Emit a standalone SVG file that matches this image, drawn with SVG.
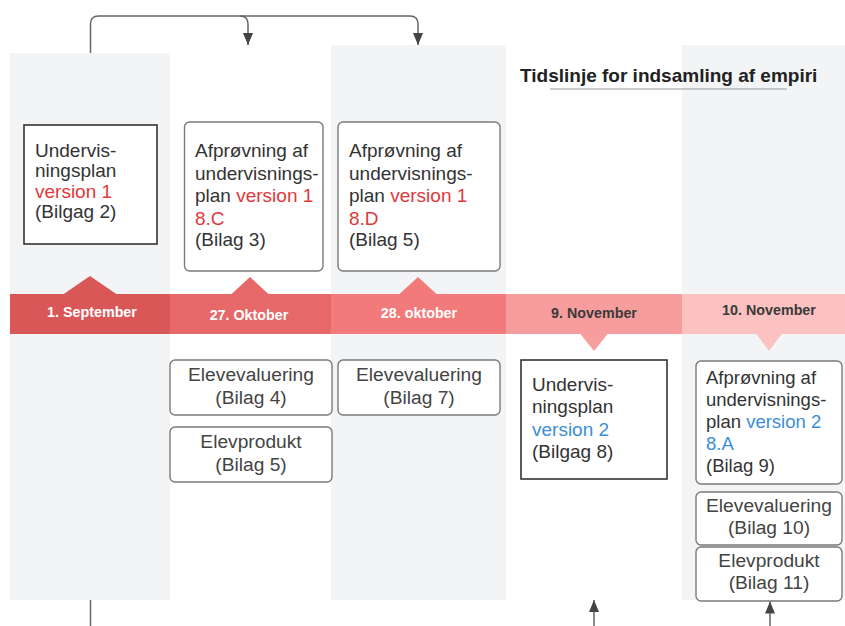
<svg xmlns="http://www.w3.org/2000/svg" width="845" height="626" viewBox="0 0 845 626">
<defs>
<style>
.col{fill:#f3f4f6}
.sq{fill:#fff;stroke:#333;stroke-width:1.6}
.rd{fill:#fff;stroke:#7a7a7a;stroke-width:1.4}
.t{font-family:"Liberation Sans",Arial,sans-serif;font-size:19px;fill:#333}
.tc{font-family:"Liberation Sans",Arial,sans-serif;font-size:19.2px;fill:#444;text-anchor:middle}
.red{fill:#e0393b}
.blue{fill:#3b8ed8}
.lbl{font-family:"Liberation Sans",Arial,sans-serif;font-size:14.3px;font-weight:bold;text-anchor:middle}
.conn{fill:none;stroke:#666;stroke-width:1.5}
</style>
<marker id="ah" viewBox="0 0 12 10" refX="12" refY="5" markerWidth="12" markerHeight="10" markerUnits="userSpaceOnUse" orient="auto">
<path d="M0,0 L12,5 L0,10 Z" fill="#444"/>
</marker>
</defs>
<rect width="845" height="626" fill="#fff"/>
<g id="columns">
<rect class="col" x="10" y="53" width="160" height="547"/>
<rect class="col" x="331" y="45" width="175" height="555"/>
<rect class="col" x="682" y="45" width="163" height="555"/>
</g>
<g id="title">
<text x="520" y="82" font-family="Liberation Sans,Arial,sans-serif" font-size="19" font-weight="bold" fill="#222">Tidslinje for indsamling af empiri</text>
<line x1="550" y1="89" x2="787" y2="89" stroke="#999" stroke-width="1.2"/>
</g>
<g id="timeline">
<rect x="10" y="294" width="160" height="40" fill="#d95757"/>
<polygon points="63,294.5 90,276 117,294.5" fill="#d95757"/>
<rect x="170" y="294" width="161" height="40" fill="#e66868"/>
<polygon points="231,294.5 250,277 269,294.5" fill="#e66868"/>
<rect x="331" y="294" width="175" height="40" fill="#f27a7a"/>
<polygon points="399,294.5 418,277 437,294.5" fill="#f27a7a"/>
<rect x="506" y="294" width="176" height="40" fill="#f89d9d"/>
<polygon points="580,333.5 594,351 608,333.5" fill="#f89d9d"/>
<rect x="682" y="294" width="163" height="40" fill="#fcc1c1"/>
<polygon points="756,333.5 769,351 782,333.5" fill="#fcc1c1"/>
<text class="lbl" x="92" y="317" fill="#fff">1. September</text>
<text class="lbl" x="249" y="320" fill="#fff">27. Oktober</text>
<text class="lbl" x="419" y="318" fill="#fff">28. oktober</text>
<text class="lbl" x="594" y="318" fill="#3a3a3a">9. November</text>
<text class="lbl" x="769" y="315" fill="#3a3a3a">10. November</text>
</g>
<g id="n1">
<rect class="sq" x="24" y="125" width="133" height="119"/>
<text class="t" x="35"><tspan x="35" y="157">Undervis-</tspan><tspan x="35" y="177">ningsplan</tspan><tspan x="35" y="198" class="red">version 1</tspan><tspan x="35" y="218">(Bilgag 2)</tspan></text>
</g>
<g id="n2">
<rect class="rd" x="184.5" y="122" width="138.5" height="149" rx="5"/>
<text class="t"><tspan x="195" y="157">Afprøvning af</tspan><tspan x="195" y="180">undervisnings-</tspan><tspan x="195" y="202">plan <tspan class="red">version 1</tspan></tspan><tspan x="195" y="225" class="red">8.C</tspan><tspan x="195" y="246">(Bilag 3)</tspan></text>
</g>
<g id="n3">
<rect class="rd" x="338" y="122" width="162" height="149" rx="5"/>
<text class="t"><tspan x="349" y="157">Afprøvning af</tspan><tspan x="349" y="180">undervisnings-</tspan><tspan x="349" y="202">plan <tspan class="red">version 1</tspan></tspan><tspan x="349" y="225" class="red">8.D</tspan><tspan x="349" y="246">(Bilag 5)</tspan></text>
</g>
<g id="n4">
<rect class="rd" x="170" y="360" width="162" height="55" rx="5"/>
<text class="tc"><tspan x="251" y="381">Elevevaluering</tspan><tspan x="251" y="404">(Bilag 4)</tspan></text>
</g>
<g id="n5">
<rect class="rd" x="170" y="427" width="162" height="55" rx="5"/>
<text class="tc"><tspan x="251" y="448">Elevprodukt</tspan><tspan x="251" y="471">(Bilag 5)</tspan></text>
</g>
<g id="n6">
<rect class="rd" x="338" y="360" width="162" height="55" rx="5"/>
<text class="tc"><tspan x="419" y="381">Elevevaluering</tspan><tspan x="419" y="404">(Bilag 7)</tspan></text>
</g>
<g id="n7">
<rect class="sq" x="521" y="360" width="146" height="119"/>
<text class="t"><tspan x="532" y="391">Undervis-</tspan><tspan x="532" y="413">ningsplan</tspan><tspan x="532" y="436" class="blue">version 2</tspan><tspan x="532" y="458">(Bilgag 8)</tspan></text>
</g>
<g id="n8">
<rect class="rd" x="696" y="361" width="146" height="123" rx="5"/>
<text class="t" style="font-size:18.5px"><tspan x="706" y="384">Afprøvning af</tspan><tspan x="706" y="406">undervisnings-</tspan><tspan x="706" y="428">plan <tspan class="blue">version 2</tspan></tspan><tspan x="706" y="450" class="blue">8.A</tspan><tspan x="706" y="472">(Bilag 9)</tspan></text>
</g>
<g id="n9">
<rect class="rd" x="696" y="492" width="146" height="53" rx="5"/>
<text class="tc"><tspan x="769" y="512">Elevevaluering</tspan><tspan x="769" y="534">(Bilag 10)</tspan></text>
</g>
<g id="n10">
<rect class="rd" x="696" y="547" width="146" height="54" rx="5"/>
<text class="tc"><tspan x="769" y="567">Elevprodukt</tspan><tspan x="769" y="589">(Bilag 11)</tspan></text>
</g>
<g id="connectors">
<path class="conn" d="M90.5,53 V24 Q90.5,16 98.5,16 H240 Q248,16 248,24 V45" marker-end="url(#ah)"/>
<path class="conn" d="M240,16 H410 Q418,16 418,24 V45" marker-end="url(#ah)"/>
<path class="conn" d="M90.5,600 V626"/>
<path class="conn" d="M594,626 V600" marker-end="url(#ah)"/>
<path class="conn" d="M770,626 V601.5" marker-end="url(#ah)"/>
</g>
</svg>
